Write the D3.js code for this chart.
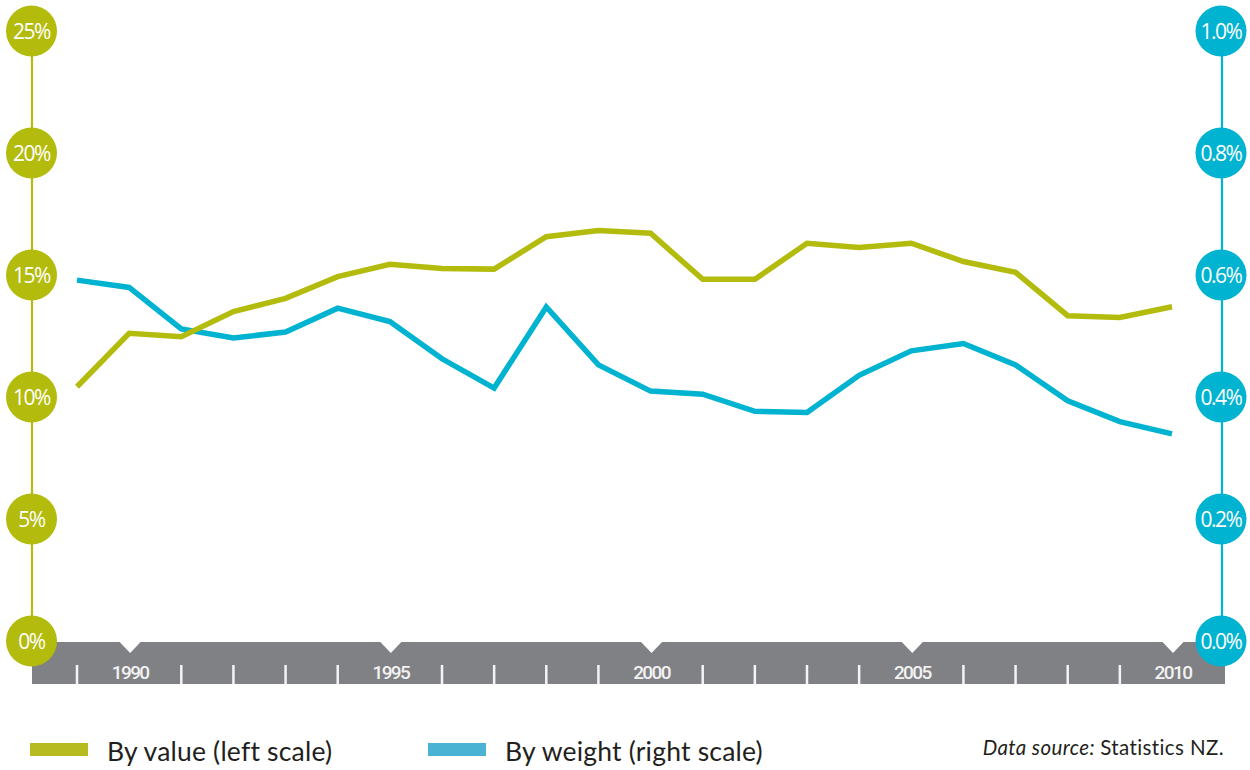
<!DOCTYPE html>
<html>
<head>
<meta charset="utf-8">
<script src="https://cdn.jsdelivr.net/npm/d3@7"></script>
<style>
  html, body { margin: 0; padding: 0; background: #ffffff; }
  svg { display: block; }
</style>
</head>
<body>
<svg id="chart" width="1250" height="770"></svg>
<script>
// Annual series, 1989–2010
const years = d3.range(1989, 2011);
const byValue = [10.38, 12.57, 12.43, 13.46, 14.00, 14.89, 15.40, 15.23, 15.20, 16.53, 16.78,
                 16.67, 14.78, 14.78, 16.26, 16.09, 16.26, 15.51, 15.07, 13.29, 13.22, 13.66];
const byWeight = [0.590, 0.578, 0.510, 0.495, 0.505, 0.544, 0.522, 0.461, 0.413, 0.546, 0.451,
                  0.408, 0.403, 0.375, 0.373, 0.434, 0.474, 0.486, 0.451, 0.392, 0.358, 0.338];

// Axis ticks
const leftTicks = [0, 5, 10, 15, 20, 25];
const rightTicks = [0, 0.2, 0.4, 0.6, 0.8, 1.0];
const labelledYears = [1990, 1995, 2000, 2005, 2010];

// Legend / source text
const legendItems = ["By value (left scale)", "By weight (right scale)"];
const sourceLabel = "Statistics NZ.";

const GREEN = "#b3bb0c";
const BLUE = "#00b3d1";
const GREY = "#808184";

const svg = d3.select("#chart");

const x = d3.scaleLinear().domain([1989, 2010]).range([77, 1172]);
const yL = d3.scaleLinear().domain([0, 25]).range([640, 30]);
const yR = d3.scaleLinear().domain([0, 1.0]).range([640, 30]);

const leftX = 32, rightX = 1222;

// Year band at the bottom
const bandTop = 642, bandBottom = 684;
svg.append("rect")
  .attr("x", 32).attr("y", bandTop)
  .attr("width", 1225 - 32).attr("height", bandBottom - bandTop)
  .attr("fill", GREY);

// Notches above labelled years
svg.append("g").selectAll("path")
  .data(labelledYears)
  .join("path")
  .attr("d", d => {
    const cx = x(d) + 1;
    return `M${cx - 11},${bandTop - 0.5} L${cx + 11},${bandTop - 0.5} L${cx},${bandTop + 11} Z`;
  })
  .attr("fill", "#ffffff");

// Small tick marks for the other years
svg.append("g").selectAll("line")
  .data(years.filter(y => !labelledYears.includes(y)))
  .join("line")
  .attr("x1", d => x(d)).attr("x2", d => x(d))
  .attr("y1", 665).attr("y2", bandBottom)
  .attr("stroke", "#f4f4f4")
  .attr("stroke-width", 2.5);

// Year labels
svg.append("g").selectAll("text")
  .data(labelledYears)
  .join("text")
  .attr("x", d => x(d) + 1)
  .attr("y", 679)
  .attr("text-anchor", "middle")
  .attr("fill", "#f2f2f2")
  .attr("font-family", "Roboto, 'Open Sans', sans-serif")
  .attr("font-weight", 500)
  .attr("font-size", 19)
  .attr("letter-spacing", -1.6)
  .text(d => d);

// Vertical axis lines
svg.append("line")
  .attr("x1", leftX).attr("x2", leftX)
  .attr("y1", yL(0)).attr("y2", yL(25))
  .attr("stroke", GREEN).attr("stroke-width", 2.2);
svg.append("line")
  .attr("x1", rightX).attr("x2", rightX)
  .attr("y1", yR(0)).attr("y2", yR(1))
  .attr("stroke", BLUE).attr("stroke-width", 2.2);

// Series lines
const lineW = d3.line().x((d, i) => x(years[i])).y(d => yR(d));
const lineV = d3.line().x((d, i) => x(years[i])).y(d => yL(d));

svg.append("path")
  .datum(byWeight)
  .attr("d", lineW)
  .attr("fill", "none")
  .attr("stroke", BLUE)
  .attr("stroke-width", 5.5)
  .attr("stroke-linejoin", "miter");

svg.append("path")
  .datum(byValue)
  .attr("d", lineV)
  .attr("fill", "none")
  .attr("stroke", GREEN)
  .attr("stroke-width", 5.5)
  .attr("stroke-linejoin", "miter");

// Circular tick badges
function badges(ticks, scale, cx, color, fmt) {
  const g = svg.append("g");
  const item = g.selectAll("g").data(ticks).join("g")
    .attr("transform", d => `translate(${cx},${scale(d) + 1})`);
  item.append("circle").attr("r", 25.5).attr("fill", color);
  item.append("text")
    .attr("y", 7.5)
    .attr("text-anchor", "middle")
    .attr("fill", "#ffffff")
    .attr("font-family", "'Open Sans', sans-serif")
    .attr("font-weight", 500)
    .attr("font-size", 21)
    .attr("letter-spacing", -1.5)
    .text(fmt);
}
badges(leftTicks, yL, 31.5, GREEN, d => d + "%");
badges(rightTicks, yR, 1221, BLUE, d => d.toFixed(1) + "%");

// Legend
const legend = svg.append("g");
const legendColors = ["#b5bb21", "#4ab3d3"];
const legendX = [30, 428];
legendItems.forEach((label, i) => {
  legend.append("rect")
    .attr("x", legendX[i]).attr("y", 743)
    .attr("width", 58).attr("height", 13)
    .attr("fill", legendColors[i]);
  legend.append("text")
    .attr("x", legendX[i] + 77).attr("y", 761)
    .attr("fill", "#231f20")
    .attr("font-family", "Lato, 'Open Sans', sans-serif")
    .attr("font-size", 26.5)
    .attr("letter-spacing", 0.2)
    .text(label);
});

// Source note
const src = svg.append("text")
  .attr("x", 1224).attr("y", 755)
  .attr("text-anchor", "end")
  .attr("fill", "#231f20")
  .attr("font-family", "Lato, 'Open Sans', sans-serif")
  .attr("font-size", 20.5)
  .attr("letter-spacing", 0.4);
src.append("tspan").attr("font-style", "italic").text("Data source: ");
src.append("tspan").text(sourceLabel);
</script>
</body>
</html>
